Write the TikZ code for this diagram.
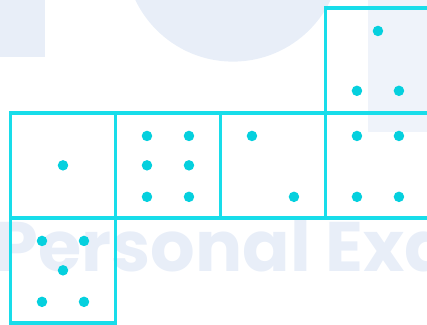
\documentclass[tikz,border=0pt]{standalone}
\usepackage{fontspec}
\setsansfont{Poppins}
\usepackage{xcolor}
\usepackage{tikz}
\definecolor{edge}{HTML}{18DDEA}
\definecolor{pipc}{HTML}{05D0DE}
\definecolor{wmark}{HTML}{E8EEF8}
\begin{document}
\begin{tikzpicture}[line join=miter]
  \tikzset{face/.style={draw=edge,line width=1pt},
           pip/.style={fill=pipc}}
  \useasboundingbox (0,0) rectangle (4.067,3.095);
  \clip (0,0) rectangle (4.067,3.095);
  % faint watermark behind the net
  \fill[wmark] (0,2.552) rectangle (0.429,3.2);
  \fill[wmark] (2.219,3.538) circle (1.03);
  \fill[wmark!70] (3.505,1.838) rectangle (4.2,3.2);
  \node[anchor=base west,inner sep=0pt,text=wmark,font=\sffamily\bfseries\fontsize{19}{19}\selectfont]
    (wm) at (-0.06,0.505) {Personal Exam};
  % the six faces of the net
  \foreach \x/\y in {0.1/1.02, 1.1/1.02, 2.1/1.02, 3.1/1.02, 3.1/2.02, 0.1/0.02}
    \draw[face] (\x,\y) rectangle ++(1,1);
  % pips
  \foreach \x/\y in {
      0.6/1.52,                                       % one
      1.4/1.80, 1.8/1.80, 1.4/1.52, 1.8/1.52, 1.4/1.22, 1.8/1.22, % six
      2.4/1.80, 2.8/1.22,                             % two
      3.4/1.80, 3.8/1.80, 3.4/1.22, 3.8/1.22,         % four
      3.6/2.80, 3.4/2.23, 3.8/2.23,                   % three
      0.4/0.80, 0.8/0.80, 0.6/0.52, 0.4/0.22, 0.8/0.22} % five
    \fill[pip] (\x,\y) circle (0.05);
\end{tikzpicture}
\end{document}
